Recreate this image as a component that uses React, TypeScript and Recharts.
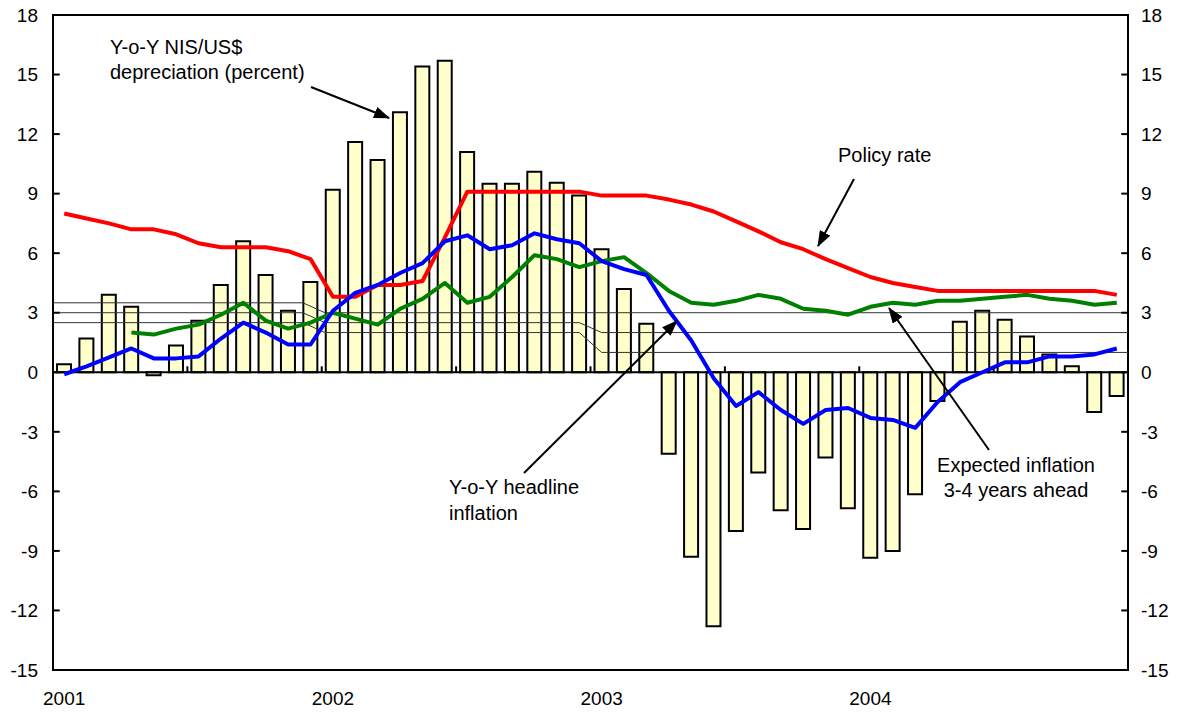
import React from 'react';
import { ComposedChart, Bar, Line, XAxis, YAxis, ReferenceLine, ReferenceArea } from 'recharts';

const FONT = '"Liberation Sans", Arial, Helvetica, sans-serif';

// Categories: months Jan 2001 .. Dec 2004
const years = ['2001', '2002', '2003', '2004'];
const monthCodes = ['01', '02', '03', '04', '05', '06', '07', '08', '09', '10', '11', '12'];
const months = years.flatMap((y) => monthCodes.map((m) => `${y}-${m}`));

// Y-o-Y NIS/US$ depreciation (percent) - bars
const depreciation = [
  0.4, 1.7, 3.9, 3.3, -0.15, 1.35, 2.6, 4.4, 6.6, 4.9, 3.1, 4.55,
  9.2, 11.6, 10.7, 13.1, 15.4, 15.7, 11.1, 9.5, 9.5, 10.1, 9.55, 8.9,
  6.2, 4.2, 2.45, -4.1, -9.3, -12.8, -8.0, -5.05, -6.95, -7.9, -4.3, -6.85,
  -9.35, -9.0, -6.15, -1.45, 2.55, 3.1, 2.65, 1.8, 0.9, 0.3, -2.0, -1.2,
];

// Policy rate
const policyRate = [
  8.0, 7.75, 7.5, 7.2, 7.2, 6.95, 6.5, 6.3, 6.3, 6.3, 6.1, 5.7,
  3.8, 3.8, 4.4, 4.4, 4.6, 6.8, 9.1, 9.1, 9.1, 9.1, 9.1, 9.1,
  8.9, 8.9, 8.9, 8.7, 8.45, 8.1, 7.6, 7.1, 6.55, 6.2, 5.7, 5.25,
  4.8, 4.5, 4.3, 4.1, 4.1, 4.1, 4.1, 4.1, 4.1, 4.1, 4.1, 3.9,
];

// Y-o-Y headline inflation
const headline = [
  -0.1, 0.3, 0.75, 1.2, 0.7, 0.7, 0.8, 1.7, 2.5, 2.0, 1.4, 1.4,
  3.1, 4.0, 4.4, 5.0, 5.5, 6.6, 6.9, 6.2, 6.4, 7.0, 6.7, 6.5,
  5.6, 5.2, 4.9, 3.1, 1.6, -0.3, -1.7, -1.0, -1.9, -2.6, -1.9, -1.8,
  -2.3, -2.4, -2.8, -1.5, -0.5, 0.0, 0.5, 0.5, 0.8, 0.8, 0.9, 1.2,
];

// Expected inflation 3-4 years ahead
const expected = [
  null, null, null, 2.0, 1.9, 2.2, 2.4, 2.9, 3.5, 2.6, 2.2, 2.5,
  3.0, 2.7, 2.4, 3.2, 3.7, 4.5, 3.5, 3.8, 4.8, 5.9, 5.7, 5.3,
  5.6, 5.8, 5.0, 4.1, 3.5, 3.4, 3.6, 3.9, 3.7, 3.2, 3.1, 2.9,
  3.3, 3.5, 3.4, 3.6, 3.6, 3.7, 3.8, 3.9, 3.7, 3.6, 3.4, 3.5,
];

// Inflation target band lines (x in months from start of 2001)
const bandUpper = [
  { x: 0, y: 3.5 }, { x: 11.16, y: 3.5 }, { x: 12.14, y: 3.0 }, { x: 48, y: 3.0 },
];
const bandMid = [
  { x: 0, y: 3.0 }, { x: 11.16, y: 3.0 }, { x: 12.14, y: 2.5 },
  { x: 23.5, y: 2.5 }, { x: 24.5, y: 2.0 }, { x: 48, y: 2.0 },
];
const bandLower = [
  { x: 0, y: 2.5 }, { x: 11.16, y: 2.5 }, { x: 12.14, y: 2.0 },
  { x: 23.5, y: 2.0 }, { x: 24.5, y: 1.0 }, { x: 48, y: 1.0 },
];

const yTicks = [-15, -12, -9, -6, -3, 0, 3, 6, 9, 12, 15, 18];
const halfYearTicks = [6, 12, 18, 24, 30, 36, 42];

const rows = months.map((m, i) => ({
  m,
  fx: depreciation[i],
  policy: policyRate[i],
  cpi: headline[i],
  exp: expected[i],
}));

const tickStyle = { fill: '#000', fontSize: 19, fontFamily: FONT };

const Arrow = ({ x1, y1, x2, y2 }: { x1: number; y1: number; x2: number; y2: number }) => (
  <line x1={x1} y1={y1} x2={x2} y2={y2} stroke="#000" strokeWidth={2} markerEnd="url(#ahead)" />
);

export default function App() {
  return (
    <div style={{ position: 'fixed', left: 0, top: 0, width: 1185, height: 713, background: '#fff' }}>
      <ComposedChart
        width={1185}
        height={713}
        data={rows}
        margin={{ top: 15, right: 0, bottom: 0, left: 0 }}
      >
        <XAxis
          xAxisId="cat"
          dataKey="m"
          type="category"
          interval={11}
          tickFormatter={(v: string) => (v.endsWith('-01') ? v.slice(0, 4) : '')}
          axisLine={false}
          tickLine={false}
          tickSize={0}
          tickMargin={22}
          height={43}
          tick={tickStyle}
        />
        <XAxis xAxisId="num" type="number" dataKey="x" domain={[0, 48]} allowDataOverflow hide />
        <YAxis
          yAxisId="left"
          domain={[-15, 18]}
          ticks={yTicks}
          interval={0}
          allowDataOverflow
          width={53}
          axisLine={false}
          tickLine={false}
          tickSize={0}
          tickMargin={15}
          tick={tickStyle}
        />
        <YAxis
          yAxisId="right"
          orientation="right"
          domain={[-15, 18]}
          ticks={yTicks}
          interval={0}
          allowDataOverflow
          width={57}
          axisLine={false}
          tickLine={false}
          tickSize={0}
          tickMargin={13}
          tick={tickStyle}
        />
        <Bar
          xAxisId="cat"
          yAxisId="left"
          dataKey="fx"
          barSize={14}
          fill="#FFFFCC"
          stroke="#000"
          strokeWidth={2}
          isAnimationActive={false}
        />
        <Line xAxisId="num" yAxisId="left" data={bandUpper} dataKey="y" stroke="#333" strokeWidth={1} dot={false} isAnimationActive={false} />
        <Line xAxisId="num" yAxisId="left" data={bandMid} dataKey="y" stroke="#333" strokeWidth={1} dot={false} isAnimationActive={false} />
        <Line xAxisId="num" yAxisId="left" data={bandLower} dataKey="y" stroke="#333" strokeWidth={1} dot={false} isAnimationActive={false} />
        <ReferenceLine xAxisId="num" yAxisId="left" y={0} stroke="#000" strokeWidth={2} />
        {halfYearTicks.map((k) => (
          <ReferenceLine
            key={`h${k}`}
            xAxisId="num"
            yAxisId="left"
            segment={[{ x: k, y: 0 }, { x: k, y: 0.3 }]}
            stroke="#000"
            strokeWidth={2}
          />
        ))}
        {yTicks.map((t) => (
          <ReferenceLine
            key={`l${t}`}
            xAxisId="num"
            yAxisId="left"
            segment={[{ x: 0, y: t }, { x: 0.3, y: t }]}
            stroke="#000"
            strokeWidth={2}
          />
        ))}
        {yTicks.map((t) => (
          <ReferenceLine
            key={`r${t}`}
            xAxisId="num"
            yAxisId="left"
            segment={[{ x: 47.7, y: t }, { x: 48, y: t }]}
            stroke="#000"
            strokeWidth={2}
          />
        ))}
        <Line xAxisId="cat" yAxisId="left" dataKey="exp" stroke="#008000" strokeWidth={4} dot={false} strokeLinejoin="round" isAnimationActive={false} />
        <Line xAxisId="cat" yAxisId="left" dataKey="policy" stroke="#FF0000" strokeWidth={4} dot={false} strokeLinejoin="round" isAnimationActive={false} />
        <Line xAxisId="cat" yAxisId="left" dataKey="cpi" stroke="#0000FF" strokeWidth={4} dot={false} strokeLinejoin="round" isAnimationActive={false} />
        <ReferenceArea
          xAxisId="num"
          yAxisId="left"
          x1={0}
          x2={48}
          y1={-15}
          y2={18}
          fill="none"
          fillOpacity={0}
          stroke="#000"
          strokeWidth={2}
          ifOverflow="visible"
        />
      </ComposedChart>
      <svg
        width={1185}
        height={713}
        style={{ position: 'absolute', left: 0, top: 0, pointerEvents: 'none' }}
      >
        <defs>
          <marker id="ahead" markerUnits="userSpaceOnUse" markerWidth={16} markerHeight={12} refX={15} refY={6} orient="auto">
            <path d="M0,0 L16,6 L0,12 z" fill="#000" />
          </marker>
        </defs>
        <g fontFamily={FONT} fontSize={20} fill="#000">
          <text x={110} y={54}>Y-o-Y NIS/US$</text>
          <text x={110} y={79}>depreciation (percent)</text>
          <text x={838} y={162}>Policy rate</text>
          <text x={449} y={494}>Y-o-Y headline</text>
          <text x={449} y={520}>inflation</text>
          <text x={1016} y={472} textAnchor="middle">Expected inflation</text>
          <text x={1016} y={497} textAnchor="middle">3-4 years ahead</text>
        </g>
        <Arrow x1={311} y1={87} x2={389} y2={118} />
        <Arrow x1={854} y1={179} x2={818} y2={246} />
        <Arrow x1={524} y1={473} x2={677} y2={321} />
        <Arrow x1={989} y1={450} x2={889} y2={308} />
      </svg>
    </div>
  );
}
